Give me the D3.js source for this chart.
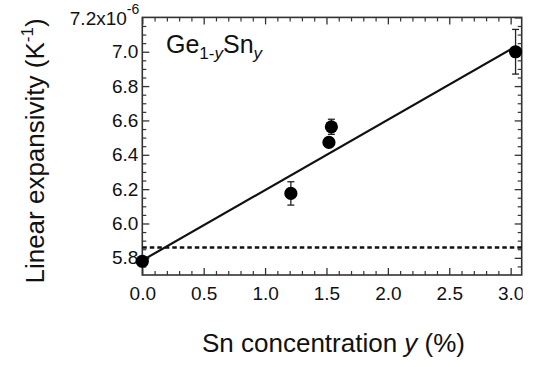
<!DOCTYPE html>
<html>
<head>
<meta charset="utf-8">
<script src="https://cdn.jsdelivr.net/npm/d3@7"></script>
<style>
  body { margin: 0; background: #fff; }
  text { font-family: "Liberation Sans", Arial, Helvetica, sans-serif; fill: #111; }
</style>
</head>
<body>
<svg id="svg"></svg>
<script>
var width = 534;
var height = 367;

// data
const sn = [0.0, 1.21, 1.52, 1.54, 3.04];          // Sn concentration y (%)
const alpha = [5.78, 6.175, 6.472, 6.563, 7.0];   // linear expansivity (1e-6 /K)
const err = [0.0, 0.068, 0.02, 0.044, 0.13];
const fitX = [0.0, 3.04];
const fitY = [5.785, 7.03];
const geLevel = 5.86;                             // dashed reference line
const xTicks = [0, 0.5, 1.0, 1.5, 2.0, 2.5, 3.0];
const yTicks = [5.8, 6.0, 6.2, 6.4, 6.6, 6.8, 7.0, 7.2];

var margin = {left: 142.3, right: width - 521.7, top: 17.4, bottom: height - 275};

var svg = d3.select("#svg")
    .attr("width", width)
    .attr("height", height);

var x = d3.scaleLinear().domain([0, 3.09]).range([margin.left, width - margin.right]);
var y = d3.scaleLinear().domain([5.70, 7.2]).range([height - margin.bottom, margin.top]);

var x0 = x.range()[0], x1 = x.range()[1];
var y0 = y.range()[0], y1 = y.range()[1];

// the original picture is cut just right of the frame
svg.append("defs").append("clipPath").attr("id", "cut")
  .append("rect").attr("x", 0).attr("y", -20).attr("width", x1 + 1).attr("height", 80);

// minor tick values
var xMinor = d3.range(0, 31).map(i => i / 10).filter(v => !xTicks.some(t => Math.abs(t - v) < 1e-6));
var yMinor = d3.range(115, 145).map(i => i / 20).filter(v => v <= 7.2 && !yTicks.some(t => Math.abs(t - v) < 1e-6));

var majLen = 7, minLen = 4;
var axisColor = "#333";

// bottom axis (ticks inward)
var bottom = svg.append("g").attr("transform", `translate(0,${y0})`)
  .attr("clip-path", "url(#cut)")
  .call(d3.axisBottom(x).tickValues(xTicks).tickSize(-majLen).tickPadding(12).tickFormat(d3.format(".1f")));
bottom.call(g => g.select(".domain").remove());
bottom.selectAll("line").attr("stroke", axisColor).attr("stroke-width", 1.3);
bottom.selectAll("text").attr("font-size", 19);
bottom.selectAll(".tick text").attr("dy", "0.71em");

svg.append("g").attr("transform", `translate(0,${y0})`)
  .call(d3.axisBottom(x).tickValues(xMinor).tickSize(-minLen).tickFormat(""))
  .call(g => g.select(".domain").remove())
  .selectAll("line").attr("stroke", axisColor).attr("stroke-width", 1.2);

// top axis (mirror, no labels)
svg.append("g").attr("transform", `translate(0,${y1})`)
  .call(d3.axisTop(x).tickValues(xTicks).tickSize(-majLen).tickFormat(""))
  .call(g => g.select(".domain").remove())
  .selectAll("line").attr("stroke", axisColor).attr("stroke-width", 1.3);
svg.append("g").attr("transform", `translate(0,${y1})`)
  .call(d3.axisTop(x).tickValues(xMinor).tickSize(-minLen).tickFormat(""))
  .call(g => g.select(".domain").remove())
  .selectAll("line").attr("stroke", axisColor).attr("stroke-width", 1.2);

// left axis
var left = svg.append("g").attr("transform", `translate(${x0},0)`)
  .call(d3.axisLeft(y).tickValues(yTicks.filter(v => v < 7.2)).tickSize(-majLen).tickPadding(4).tickFormat(d3.format(".1f")));
left.call(g => g.select(".domain").remove());
left.selectAll("line").attr("stroke", axisColor).attr("stroke-width", 1.3);
left.selectAll("text").attr("font-size", 19);

svg.append("g").attr("transform", `translate(${x0},0)`)
  .call(d3.axisLeft(y).tickValues(yMinor).tickSize(-minLen).tickFormat(""))
  .call(g => g.select(".domain").remove())
  .selectAll("line").attr("stroke", axisColor).attr("stroke-width", 1.2);

// right axis (mirror)
svg.append("g").attr("transform", `translate(${x1},0)`)
  .call(d3.axisRight(y).tickValues(yTicks).tickSize(-majLen).tickFormat(""))
  .call(g => g.select(".domain").remove())
  .selectAll("line").attr("stroke", axisColor).attr("stroke-width", 1.3);
svg.append("g").attr("transform", `translate(${x1},0)`)
  .call(d3.axisRight(y).tickValues(yMinor).tickSize(-minLen).tickFormat(""))
  .call(g => g.select(".domain").remove())
  .selectAll("line").attr("stroke", axisColor).attr("stroke-width", 1.2);

// frame
svg.append("rect")
  .attr("x", x0).attr("y", y1)
  .attr("width", x1 - x0).attr("height", y0 - y1)
  .attr("fill", "none").attr("stroke", axisColor).attr("stroke-width", 1.6);

// top label 7.2x10^-6
var topLab = svg.append("text")
  .attr("x", x0 - 3).attr("y", y(7.2) + 8)
  .attr("text-anchor", "end").attr("font-size", 19);
topLab.append("tspan").text("7.2x10");
topLab.append("tspan").attr("font-size", 14).attr("dy", -11).text("-6");

// dashed line
svg.append("line")
  .attr("x1", x0).attr("x2", x1)
  .attr("y1", y(geLevel)).attr("y2", y(geLevel))
  .attr("stroke", "#111").attr("stroke-width", 2.6)
  .attr("stroke-dasharray", "4.5,3");

// fit line
svg.append("path")
  .datum(d3.zip(fitX, fitY))
  .attr("d", d3.line().x(d => x(d[0])).y(d => y(d[1])))
  .attr("fill", "none").attr("stroke", "#111").attr("stroke-width", 2.2);

// error bars
var pts = sn.map((v, i) => ({x: v, y: alpha[i], e: err[i]}));
var eb = svg.append("g").attr("stroke", "#222").attr("stroke-width", 1.3);
pts.filter(d => d.e > 0).forEach(d => {
  var cx = x(d.x);
  eb.append("line").attr("x1", cx).attr("x2", cx).attr("y1", y(d.y - d.e)).attr("y2", y(d.y + d.e));
  eb.append("line").attr("x1", cx - 3.5).attr("x2", cx + 3.5).attr("y1", y(d.y - d.e)).attr("y2", y(d.y - d.e));
  eb.append("line").attr("x1", cx - 3.5).attr("x2", cx + 3.5).attr("y1", y(d.y + d.e)).attr("y2", y(d.y + d.e));
});

// markers
svg.append("g").selectAll("circle")
  .data(pts)
  .join("circle")
    .attr("cx", d => x(d.x))
    .attr("cy", d => y(d.y))
    .attr("r", 6.6)
    .attr("fill", "#000");

// legend text
var leg = svg.append("text").attr("x", 166).attr("y", 53).attr("font-size", 25);
leg.append("tspan").text("Ge");
leg.append("tspan").attr("font-size", 17).attr("dy", 6).text("1-");
leg.append("tspan").attr("font-size", 17).attr("font-style", "italic").text("y");
leg.append("tspan").attr("dy", -6).text("Sn");
leg.append("tspan").attr("font-size", 17).attr("dy", 6).attr("font-style", "italic").text("y");

// x title
var xt = svg.append("text")
  .attr("x", (197 + 470) / 2).attr("y", 352)
  .attr("text-anchor", "middle").attr("font-size", 26);
xt.append("tspan").text("Sn concentration ");
xt.append("tspan").attr("font-style", "italic").text("y");
xt.append("tspan").text(" (%)");

// y title
var yt = svg.append("text")
  .attr("transform", `translate(44,151) rotate(-90)`)
  .attr("text-anchor", "middle").attr("font-size", 26);
yt.append("tspan").text("Linear expansivity (K");
yt.append("tspan").attr("font-size", 17).attr("dy", -11).text("-1");
yt.append("tspan").attr("dy", 11).text(")");
</script>
</body>
</html>
